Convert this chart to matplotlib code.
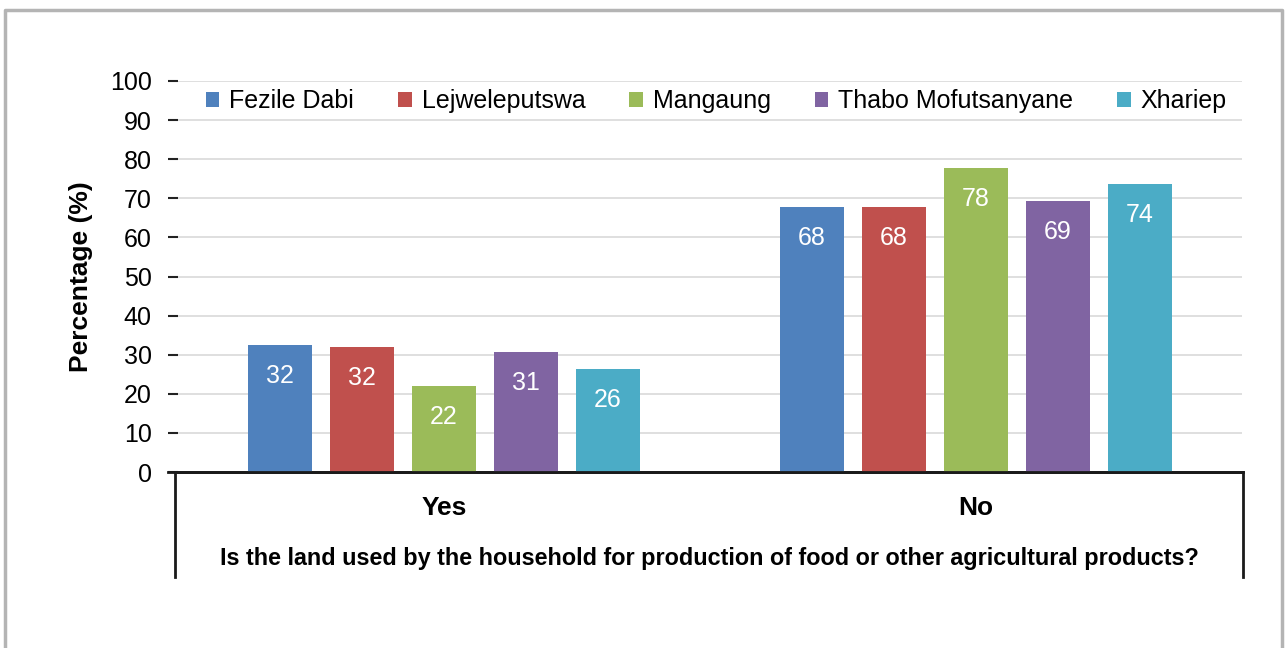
import numpy as np
import matplotlib
matplotlib.use("Agg")
import matplotlib.pyplot as plt
from matplotlib.lines import Line2D

plt.rcParams['font.family'] = ['Liberation Sans', 'DejaVu Sans']

# data
categories = ['Yes', 'No']
districts = ['Fezile Dabi', 'Lejweleputswa', 'Mangaung', 'Thabo Mofutsanyane', 'Xhariep']
fezile = [32.4, 67.8]
lejwe = [32.0, 67.8]
mangaung = [22.0, 77.8]
thabo = [30.6, 69.3]
xhariep = [26.3, 73.7]
colors = ['#4F81BD', '#C0504D', '#9BBB59', '#8064A2', '#4BACC6']
series = [fezile, lejwe, mangaung, thabo, xhariep]

fig = plt.figure(figsize=(12.85, 6.48), dpi=100)
ax = fig.add_axes([0.1385, 0.2716, 0.828, 0.6034])

x = np.arange(len(categories))
w = 0.12
step = 0.154
for k, vals in enumerate(series):
    bars = ax.bar(x + (k - 2) * step, vals, w, color=colors[k], label=districts[k], zorder=3)
    for b, v in zip(bars, vals):
        ax.annotate(str(int(round(v))), (b.get_x() + b.get_width() / 2, v),
                    xytext=(0, -31), textcoords='offset pixels', ha='center', va='center',
                    color='white', fontsize=18, zorder=4)

ax.set_xlim(-0.5, 1.5)
ax.set_ylim(0, 100)
ax.set_yticks(range(0, 101, 10))
ax.grid(axis='y', color='#d9d9d9', linewidth=1.2, zorder=0)
for s in ['left', 'right', 'top']:
    ax.spines[s].set_visible(False)
ax.spines['bottom'].set_linewidth(2)
ax.spines['bottom'].set_color('#1a1a1a')
ax.tick_params(axis='y', length=7, width=1.5, pad=12, labelsize=18, color='#222222')
ax.tick_params(axis='x', length=0, pad=17)
ax.set_xticks(x)
ax.set_xticklabels(categories, fontsize=19, fontweight='bold')
ax.set_ylabel('Percentage (%)', fontsize=19, fontweight='bold', labelpad=12)

leg = ax.legend(loc='center', bbox_to_anchor=(0.506, 0.949), ncol=5, frameon=False,
                fontsize=18, handlelength=0.55, handleheight=0.55, handletextpad=0.4,
                columnspacing=1.75, borderpad=0)

# box below the axis
H = 648
W = 1285
yb = 1 - 577 / H
ya = 1 - 472 / H
for xp in [175 / W, 1243 / W]:
    fig.add_artist(Line2D([xp, xp], [yb, ya], color='#1a1a1a', linewidth=2))
fig.add_artist(Line2D([168 / W, 1243 / W], [ya, ya], color='#1a1a1a', linewidth=2))

fig.text(0.5 * (175 + 1243) / W, 1 - 559 / H,
         'Is the land used by the household for production of food or other agricultural products?',
         ha='center', va='center', fontsize=16.8, fontweight='bold')

# outer gray frame
fx0, fx1, fy1 = 5 / W, 1282 / W, 1 - 10 / H
fig.add_artist(Line2D([fx0, fx0, fx1, fx1], [0, fy1, fy1, 0], color='#b4b4b4', linewidth=2.5))

fig.savefig('out.png', dpi=100)
